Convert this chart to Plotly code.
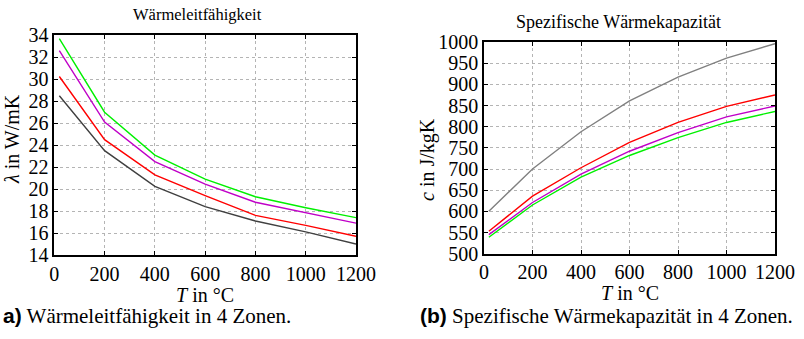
import plotly.graph_objects as go

W, H = 804, 339

temps = [20, 200, 400, 600, 800, 1000, 1200]

# Wärmeleitfähigkeit (W/mK), 4 Zonen
lam_green = [33.7, 27.0, 23.1, 20.9, 19.3, 18.3, 17.4]
lam_magenta = [32.6, 26.1, 22.5, 20.45, 18.8, 17.85, 16.9]
lam_red = [30.25, 24.5, 21.3, 19.4, 17.6, 16.7, 15.7]
lam_gray = [28.5, 23.5, 20.25, 18.4, 17.1, 16.1, 15.0]

# Spezifische Wärmekapazität (J/kgK), 4 Zonen
c_gray = [600, 700, 788, 861, 917, 962, 996]
c_red = [553, 636, 703, 763, 810, 848, 875]
c_magenta = [545, 621, 688, 742, 786, 823, 849]
c_green = [539, 615, 681, 732, 774, 810, 836]

x_ticks = [0, 200, 400, 600, 800, 1000, 1200]
lam_ticks = list(range(14, 35, 2))
c_ticks = list(range(500, 1001, 50))

FONT = "Liberation Serif, Tinos, Times New Roman, DejaVu Serif, serif"

fig = go.Figure()

def add(x, y, color, xa, ya):
    fig.add_trace(go.Scatter(x=x, y=y, mode="lines", line=dict(color=color, width=1.4),
                             xaxis=xa, yaxis=ya, showlegend=False, hoverinfo="skip"))

add(temps, lam_green, "#00f000", "x", "y")
add(temps, lam_magenta, "#c000c8", "x", "y")
add(temps, lam_red, "#ff0000", "x", "y")
add(temps, lam_gray, "#404040", "x", "y")

add(temps, c_gray, "#808080", "x2", "y2")
add(temps, c_red, "#ff0000", "x2", "y2")
add(temps, c_magenta, "#c000c8", "x2", "y2")
add(temps, c_green, "#00f000", "x2", "y2")

def px_x(v):
    return v / W

def px_y(v):
    return 1 - v / H

axis_common = dict(
    showline=True, linecolor="black", linewidth=1.5, mirror="ticks",
    ticks="inside", ticklen=4, tickcolor="black", tickwidth=1,
    showgrid=True, gridcolor="#b4b4b4", griddash="dot", gridwidth=1,
    zeroline=False, automargin=False,
    tickfont=dict(family=FONT, size=20, color="black"),
)

fig.update_layout(
    width=W, height=H,
    margin=dict(l=0, r=0, t=0, b=0, pad=0),
    paper_bgcolor="white", plot_bgcolor="white",
    font=dict(family=FONT),
    xaxis=dict(domain=[px_x(54.3), px_x(356)], range=[0, 1200], tickvals=x_ticks,
               anchor="y", **axis_common),
    yaxis=dict(domain=[px_y(255), px_y(35.3)], range=[14, 34], tickvals=lam_ticks,
               anchor="x", **axis_common),
    xaxis2=dict(domain=[px_x(484), px_x(775)], range=[0, 1200], tickvals=x_ticks,
                anchor="y2", **axis_common),
    yaxis2=dict(domain=[px_y(253.7), px_y(42)], range=[500, 1000], tickvals=c_ticks,
                anchor="x2", **axis_common),
)

def ann(text, x, y, size, angle=0, xanchor="center"):
    fig.add_annotation(text=text, x=px_x(x), y=px_y(y), xref="paper", yref="paper",
                       showarrow=False, textangle=angle, xanchor=xanchor, yanchor="middle",
                       font=dict(family=FONT, size=size, color="black"))

ann("Wärmeleitfähigkeit", 197, 15, 16.5)
ann("Spezifische Wärmekapazität", 618.5, 22, 18)
ann("<i>T</i> in °C", 205, 295, 20)
ann("<i>T</i> in °C", 630, 293, 20)
ann("<i>λ</i> in W/mK", 12, 139, 20, angle=-90)
ann("<i>c</i> in J/kgK", 427, 160, 20, angle=-90)

fig.add_annotation(
    text="<b><span style='font-family:Liberation Sans,Arial,sans-serif'>a)</span></b> Wärmeleitfähigkeit in 4 Zonen.",
    x=px_x(1), y=px_y(316), xref="paper", yref="paper", showarrow=False,
    xanchor="left", yanchor="middle", font=dict(family=FONT, size=21, color="black"))
fig.add_annotation(
    text="<b><span style='font-family:Liberation Sans,Arial,sans-serif'>(b)</span></b> Spezifische Wärmekapazität in 4 Zonen.",
    x=px_x(418), y=px_y(316), xref="paper", yref="paper", showarrow=False,
    xanchor="left", yanchor="middle", font=dict(family=FONT, size=21, color="black"))

fig.write_html("out.html")
